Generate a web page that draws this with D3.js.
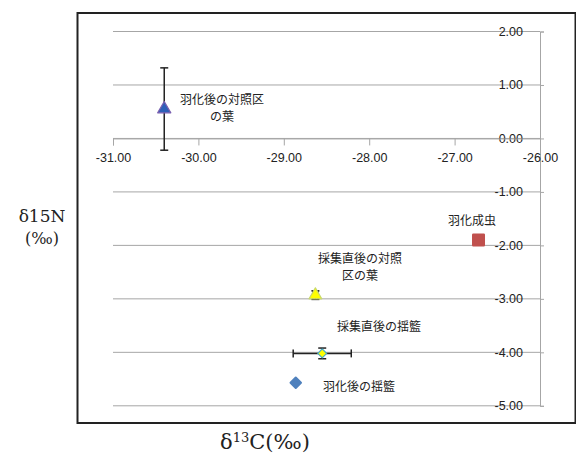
<!DOCTYPE html>
<html><head><meta charset="utf-8">
<script src="https://cdn.jsdelivr.net/npm/d3@7"></script>
<style>body{margin:0;background:#fff}svg{display:block}</style>
</head><body><svg id="c" width="576" height="458"></svg>
<script>
const names = ["羽化後の対照区の葉","羽化成虫","採集直後の対照区の葉","採集直後の揺籃","羽化後の揺籃"];
const xVals = [-30.40, -26.72, -28.63, -28.55, -28.86];
const yVals = [0.55, -1.90, -2.93, -4.02, -4.57];
const xErr = [0.00, 0.00, 0.03, 0.34, 0.00];
const yErr = [0.77, 0.00, 0.08, 0.10, 0.00];
const labelLines = [["羽化後の対照区","の葉"],["羽化成虫"],["採集直後の対照","区の葉"],["採集直後の揺籃"],["羽化後の揺籃"]];
const xTicks = [-31,-30,-29,-28,-27,-26];
const yTicks = [2,1,0,-1,-2,-3,-4,-5];

const svg = d3.select("#c");
const x = d3.scaleLinear().domain([-31,-26]).range([113,540]);
const y = d3.scaleLinear().domain([2,-5]).range([31.5,405.8]);
const fmt = d => d3.format(".2f")(d).replace("−","-");

// chart border
svg.append("rect").attr("x",77.5).attr("y",13).attr("width",498).attr("height",410)
  .attr("fill","none").attr("stroke","#222").attr("stroke-width",2);

// gridlines
svg.append("g").selectAll("line").data(yTicks).join("line")
  .attr("x1",x(-31)).attr("x2",x(-26)).attr("y1",d=>y(d)).attr("y2",d=>y(d))
  .attr("stroke","#a6a6a6").attr("stroke-width",1);

// y axis at x = -26
const ya = svg.append("g").attr("transform",`translate(${x(-26)},0)`)
  .call(d3.axisRight(y).tickValues(yTicks).tickSize(4).tickFormat(fmt));
ya.select(".domain").attr("stroke","#a6a6a6");
ya.selectAll(".tick line").attr("stroke","#a6a6a6");
ya.selectAll(".tick text").attr("x",-17).attr("text-anchor","end")
  .attr("font-family","Liberation Sans, Arial, sans-serif").attr("font-size",12.5).attr("fill","#222");

// x axis at y = 0
const xa = svg.append("g").attr("transform",`translate(0,${y(0)})`)
  .call(d3.axisBottom(x).tickValues(xTicks).tickSize(7).tickFormat(fmt));
xa.select(".domain").attr("stroke","#a6a6a6");
xa.selectAll(".tick line").attr("stroke","#a6a6a6");
xa.selectAll(".tick text").attr("y",15)
  .attr("font-family","Liberation Sans, Arial, sans-serif").attr("font-size",12.5).attr("fill","#222");

// error bars
const eb = svg.append("g").attr("stroke","#222").attr("stroke-width",1.5);
xVals.forEach((xv,i)=>{
  if (yErr[i]>0){
    eb.append("line").attr("x1",x(xv)).attr("x2",x(xv)).attr("y1",y(yVals[i]+yErr[i])).attr("y2",y(yVals[i]-yErr[i]));
    [yVals[i]+yErr[i], yVals[i]-yErr[i]].forEach(v=>eb.append("line").attr("x1",x(xv)-4).attr("x2",x(xv)+4).attr("y1",y(v)).attr("y2",y(v)));
  }
  if (xErr[i]>0){
    eb.append("line").attr("y1",y(yVals[i])).attr("y2",y(yVals[i])).attr("x1",x(xv-xErr[i])).attr("x2",x(xv+xErr[i]));
    [xv-xErr[i], xv+xErr[i]].forEach(v=>eb.append("line").attr("y1",y(yVals[i])-4).attr("y2",y(yVals[i])+4).attr("x1",x(v)).attr("x2",x(v)));
  }
});

// markers
const sym = [d3.symbolTriangle, d3.symbolSquare, d3.symbolTriangle, d3.symbolSquare, d3.symbolSquare];
const sizes = [75, 110, 70, 40, 55];
const rot = [0, 0, 0, 45, 45];
const fills = ["#2e5fb8","#c0504d","#ffff00","#ffff00","#4f81bd"];
const strokes = ["#7a5fb0","#c0504d","#c8d870","#4bacc6","#4f81bd"];
xVals.forEach((xv,i)=>{
  const p = svg.append("path").attr("transform",`translate(${x(xv)},${y(yVals[i])}) rotate(${rot[i]})`)
    .attr("d", d3.symbol().type(sym[i]).size(sizes[i])())
    .attr("fill",fills[i]).attr("stroke",strokes[i]).attr("stroke-width",1.2).attr("stroke-linejoin","round");
  if (i===1) p.attr("stroke-width",2.5);
  if (i===4) p.attr("stroke-width",2);
});

// data labels
const labelPos = [[222,100],[472,221],[360,259],[379,327],[359,387]];
labelLines.forEach((lines,i)=>{
  const t = svg.append("text").attr("text-anchor","middle")
    .attr("font-family","Noto Sans CJK JP, sans-serif").attr("font-size",12).attr("fill","#222");
  lines.forEach((s,j)=>t.append("tspan").attr("x",labelPos[i][0]).attr("y",labelPos[i][1]+j*17+4).text(s));
});

// axis titles
const serif = "DejaVu Serif, Liberation Serif, serif";
svg.append("text").attr("x",42).attr("y",222).attr("text-anchor","middle")
  .attr("font-family",serif).attr("font-size",17).attr("fill","#222").text("δ15N");
svg.append("text").attr("x",42).attr("y",244).attr("text-anchor","middle")
  .attr("font-family",serif).attr("font-size",16).attr("fill","#222").text("(‰)");
const xt = svg.append("text").attr("x",265).attr("y",449).attr("text-anchor","middle")
  .attr("font-family",serif).attr("font-size",21).attr("fill","#222");
xt.append("tspan").text("δ");
xt.append("tspan").attr("font-size",13).attr("dy",-7).text("13");
xt.append("tspan").attr("dy",7).text("C(‰)");
</script></body></html>
